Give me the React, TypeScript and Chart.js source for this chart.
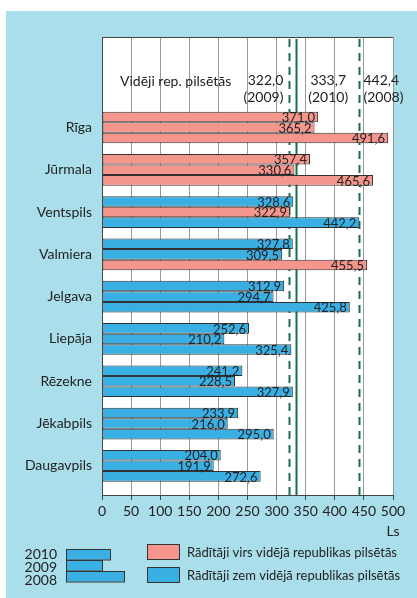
import React, { useEffect, useRef } from "react";
import { Chart, registerables } from "chart.js";

Chart.register(...registerables);

const cities = ["Rīga", "Jūrmala", "Ventspils", "Valmiera", "Jelgava", "Liepāja", "Rēzekne", "Jēkabpils", "Daugavpils"];
const years = ["2010", "2009", "2008"];
const values2010 = [371.0, 357.4, 328.6, 327.8, 312.9, 252.6, 241.2, 233.9, 204.0];
const values2009 = [365.2, 330.6, 322.9, 309.5, 294.7, 210.2, 228.5, 216.0, 191.9];
const values2008 = [491.6, 465.6, 442.2, 455.5, 425.8, 325.4, 327.9, 295.0, 272.6];
const averages = [333.7, 322.0, 442.4]; // 2010, 2009, 2008
const xTicks = [0, 50, 100, 150, 200, 250, 300, 350, 400, 450, 500];
const headerTitle = "Vidēji rep. pilsētās";
const legendAbove = "Rādītāji virs vidējā republikas pilsētās";
const legendBelow = "Rādītāji zem vidējā republikas pilsētās";
const unitLabel = "Ls";

const PINK = "#f4968c";
const BLUE = "#3aafe3";
const PANEL = "#abdeeb";
const GREEN = "#1a6e50";
const BORDER = "#333333";
const FONT = "Lato, 'Open Sans', sans-serif";

const fmt = (v: number) => v.toFixed(1).replace(".", ",");

export default function App() {
  const ref = useRef<HTMLCanvasElement | null>(null);

  useEffect(() => {
    document.body.style.margin = "0";
    const canvas = ref.current!;
    const series = [values2010, values2009, values2008];

    const datasets = series.map((vals, k) => ({
      label: years[k],
      data: vals.map((v, i) => ({ x: v, y: i })),
      backgroundColor: vals.map((v) => (v > averages[k] ? PINK : BLUE)),
      borderColor: BORDER,
      borderWidth: 1,
      borderSkipped: false,
      categoryPercentage: 0.75,
      barPercentage: 1,
    }));

    const decor = {
      id: "decor",
      beforeDraw(chart: any) {
        const c = chart.ctx;
        const ca = chart.chartArea;
        c.save();
        c.fillStyle = "#ffffff";
        c.fillRect(0, 0, chart.width, chart.height);
        c.fillStyle = PANEL;
        c.fillRect(6, 11, chart.width - 6, chart.height - 11);
        c.fillStyle = "#ffffff";
        c.fillRect(ca.left, ca.top, ca.right - ca.left, ca.bottom - ca.top);
        c.restore();
      },
      beforeDatasetsDraw(chart: any) {
        const c = chart.ctx;
        const ca = chart.chartArea;
        const xs = chart.scales.x;
        c.save();
        c.strokeStyle = GREEN;
        c.lineWidth = 2;
        averages.forEach((a, k) => {
          const px = Math.round(xs.getPixelForValue(a)) + 0.5;
          c.setLineDash(k === 0 ? [] : [8, 6]);
          c.beginPath();
          c.moveTo(px, ca.top + 2);
          c.lineTo(px, ca.bottom);
          c.stroke();
        });
        c.setLineDash([]);
        // header texts
        c.fillStyle = "#222";
        c.font = `14px ${FONT}`;
        c.textBaseline = "middle";
        c.textAlign = "left";
        c.fillText(headerTitle, 120, 81);
        const x09 = xs.getPixelForValue(averages[1]);
        c.textAlign = "right";
        c.fillText(fmt(averages[1]), x09 - 6, 80);
        c.fillText("(" + years[1] + ")", x09 - 6, 97);
        const x10 = xs.getPixelForValue(averages[0]);
        c.textAlign = "center";
        c.fillText(fmt(averages[0]), x10 + 32, 80);
        c.fillText("(" + years[0] + ")", x10 + 32, 97);
        const x08 = xs.getPixelForValue(averages[2]);
        c.textAlign = "left";
        c.fillText(fmt(averages[2]), x08 + 4, 80);
        c.fillText("(" + years[2] + ")", x08 + 4, 97);
        c.restore();
      },
      afterDatasetsDraw(chart: any) {
        const c = chart.ctx;
        const ca = chart.chartArea;
        c.save();
        c.fillStyle = "#222";
        c.font = `13px ${FONT}`;
        c.textAlign = "right";
        c.textBaseline = "middle";
        chart.data.datasets.forEach((ds: any, k: number) => {
          const meta = chart.getDatasetMeta(k);
          meta.data.forEach((bar: any, i: number) => {
            c.fillText(fmt(series[k][i]), bar.x - 3, bar.y + 1);
          });
        });
        // plot frame: top and left
        c.strokeStyle = "#444";
        c.lineWidth = 1;
        c.beginPath();
        c.moveTo(ca.left + 0.5, ca.bottom);
        c.lineTo(ca.left + 0.5, ca.top + 0.5);
        c.lineTo(ca.right, ca.top + 0.5);
        c.stroke();
        // unit
        c.font = `14px ${FONT}`;
        c.textAlign = "center";
        c.fillText(unitLabel, ca.right, 531);
        // legend: year samples
        c.textAlign = "right";
        const ly = [554, 567, 580];
        years.forEach((y, k) => {
          c.fillStyle = "#222";
          c.fillText(y, 57, ly[k]);
        });
        const lbx = 66;
        const ltops = [549, 560, 571];
        const lw = [44, 36, 58];
        lw.forEach((w, k) => {
          c.fillStyle = BLUE;
          c.strokeStyle = BORDER;
          c.fillRect(lbx, ltops[k], w, 10.5);
          c.strokeRect(lbx + 0.5, ltops[k] + 0.5, w, 10.5);
        });
        // legend boxes
        const boxes = [
          { color: PINK, text: legendAbove, top: 544 },
          { color: BLUE, text: legendBelow, top: 567 },
        ];
        boxes.forEach((b) => {
          c.fillStyle = b.color;
          c.fillRect(147, b.top, 32, 15);
          c.strokeStyle = BORDER;
          c.strokeRect(147.5, b.top + 0.5, 32, 15);
          c.fillStyle = "#222";
          c.textAlign = "left";
          c.font = `13px ${FONT}`;
          c.fillText(b.text, 187, b.top + 8.5);
        });
        c.restore();
      },
    };

    const chart = new Chart(canvas, {
      type: "bar",
      data: { datasets: datasets as any },
      options: {
        indexAxis: "y",
        animation: false,
        responsive: false,
        maintainAspectRatio: false,
        layout: { padding: { left: 0, top: 37, right: 24, bottom: 73 } },
        plugins: { legend: { display: false }, tooltip: { enabled: false } },
        scales: {
          x: {
            type: "linear",
            min: 0,
            max: 500,
            afterBuildTicks: (scale: any) => {
              scale.ticks = xTicks.map((v) => ({ value: v }));
            },
            afterFit: (scale: any) => {
              scale.height = 30;
            },
            grid: {
              color: "#9a9a9a",
              lineWidth: 1,
              tickLength: 5,
              tickColor: "#444",
            },
            border: { color: "#444", width: 1 },
            ticks: {
              color: "#222",
              font: { family: FONT, size: 14 },
              padding: 3,
              maxRotation: 0,
            },
          },
          y: {
            type: "linear",
            reverse: true,
            offset: false,
            min: -2.14,
            max: 8.69,
            afterBuildTicks: (scale: any) => {
              scale.ticks = cities.map((_, i) => ({ value: i }));
            },
            afterFit: (scale: any) => {
              scale.width = 102;
            },
            grid: { display: false, drawTicks: false },
            border: { display: false },
            ticks: {
              color: "#222",
              font: { family: FONT, size: 14 },
              padding: 10,
              callback: (v: any) => cities[Math.round(Number(v))] ?? "",
            },
          },
        },
      },
      plugins: [decor],
    });
    return () => chart.destroy();
  }, []);

  return <canvas ref={ref} width={417} height={598} style={{ display: "block" }} />;
}
